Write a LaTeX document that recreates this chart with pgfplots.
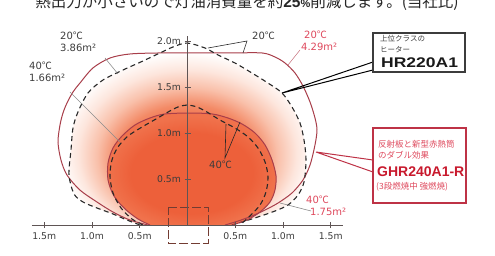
\documentclass[border=0pt]{standalone}
\usepackage{pgfplots}
\pgfplotsset{compat=1.18}
\usepackage{fontspec}
\setmainfont{DejaVu Sans}
\newfontfamily\jp{Noto Sans CJK JP}
\newfontfamily\lib{Liberation Sans}

\definecolor{heatA}{RGB}{238,102,64}
\definecolor{heatB}{RGB}{243,138,102}
\definecolor{heatC}{RGB}{249,192,170}
\definecolor{heatD}{RGB}{253,230,221}
\definecolor{coreA}{RGB}{237,96,58}
\definecolor{coreB}{RGB}{240,114,76}
\definecolor{solidc}{RGB}{168,62,74}
\definecolor{dashc}{RGB}{40,40,40}
\definecolor{rectc}{RGB}{115,60,50}
\definecolor{axisc}{RGB}{95,85,85}
\definecolor{labc}{RGB}{60,60,60}
\definecolor{redlab}{RGB}{222,72,92}
\definecolor{redbox}{RGB}{190,50,70}
\definecolor{ghr}{RGB}{200,25,45}
\definecolor{leadg}{RGB}{140,140,140}
\definecolor{leadr}{RGB}{205,130,140}

\pgfdeclareradialshading{glow}{\pgfpoint{0bp}{-10bp}}{color(0bp)=(heatA); color(10bp)=(heatA); color(15bp)=(heatB); color(19bp)=(heatC); color(23bp)=(heatD); color(27bp)=(white); color(50bp)=(white)}
\pgfdeclareradialshading{core}{\pgfpoint{0bp}{-3bp}}{color(0bp)=(coreA); color(18bp)=(coreA); color(25bp)=(coreB); color(50bp)=(coreB)}

\begin{document}
\begin{tikzpicture}
\useasboundingbox (-187.5pt,-30pt) rectangle (307.5pt,225pt);
\begin{axis}[
  anchor=origin, at={(0pt,0pt)},
  x=95.5pt, y=92pt,
  xmin=-1.63, xmax=1.63, ymin=0, ymax=2.05,
  axis lines=middle, axis on top, clip=false,
  axis line style={-, line width=0.8pt, color=axisc},
  xtick={-1.5,-1,-0.5,0.5,1,1.5},
  xticklabels={1.5m,1.0m,0.5m,0.5m,1.0m,1.5m},
  ytick={0.5,1,1.5,2},
  yticklabels={0.5m,1.0m,1.5m,2.0m},
  tick align=center, major tick length=6pt,
  tick style={line width=0.8pt, color=axisc},
  ticklabel style={font=\fontsize{9.3}{9.3}\selectfont, text=labc},
  xticklabel style={yshift=-1pt},
]
% glow (area inside outer dashed curve)
\addplot[draw=none, shade, shading=glow, smooth] coordinates {
(-0.497,0) (-0.634,0.054) (-0.780,0.120) (-0.948,0.185) (-1.094,0.250) (-1.188,0.337)
(-1.241,0.543) (-1.220,0.815) (-1.199,1.054) (-1.147,1.228) (-1.042,1.435) (-0.885,1.576)
(-0.675,1.685) (-0.466,1.783) (-0.288,1.870) (-0.152,1.935) (-0.005,1.978) (0.183,1.924)
(0.319,1.848) (0.497,1.761) (0.675,1.652) (0.843,1.543) (0.990,1.435) (1.094,1.283)
(1.178,1.109) (1.220,0.924) (1.241,0.707) (1.220,0.467) (1.157,0.326) (1.052,0.217)
(0.916,0.152) (0.738,0.087) (0.571,0.033) (0.466,0)} \closedcycle;
% core (area inside inner solid curve)
\addplot[draw=none, shade, shading=core, smooth] coordinates {
(-0.393,0) (-0.518,0.065) (-0.654,0.174) (-0.770,0.315) (-0.832,0.489) (-0.832,0.674)
(-0.780,0.837) (-0.686,0.967) (-0.550,1.087) (-0.393,1.163) (-0.236,1.207) (0.026,1.217)
(0.257,1.207) (0.424,1.163) (0.571,1.098) (0.707,1.000) (0.812,0.870) (0.885,0.707)
(0.927,0.533) (0.916,0.380) (0.864,0.250) (0.759,0.141) (0.623,0.054) (0.466,0)} \closedcycle;
% GHR240A1-R 20C (outer solid)
\addplot[solidc, line width=1pt, smooth] coordinates {
(-0.414,0) (-0.602,0.054) (-0.780,0.141) (-0.948,0.250) (-1.126,0.380) (-1.262,0.543)
(-1.325,0.707) (-1.356,0.902) (-1.335,1.087) (-1.304,1.217) (-1.262,1.326) (-1.199,1.446)
(-1.126,1.543) (-0.990,1.707) (-0.812,1.815) (-0.602,1.859) (-0.288,1.870) (0.026,1.870)
(0.445,1.870) (0.780,1.870) (0.916,1.826) (1.021,1.761) (1.126,1.652) (1.209,1.511)
(1.283,1.337) (1.335,1.163) (1.356,1.033) (1.335,0.870) (1.283,0.652) (1.209,0.489)
(1.094,0.348) (0.948,0.239) (0.812,0.163) (0.675,0.098) (0.529,0.043) (0.393,0)};
% HR220A1 20C (outer dashed)
\addplot[dashc, line width=1.1pt, dash pattern=on 5pt off 3.5pt, smooth] coordinates {
(-0.497,0) (-0.634,0.054) (-0.780,0.120) (-0.948,0.185) (-1.094,0.250) (-1.188,0.337)
(-1.241,0.543) (-1.220,0.815) (-1.199,1.054) (-1.147,1.228) (-1.042,1.435) (-0.885,1.576)
(-0.675,1.685) (-0.466,1.783) (-0.288,1.870) (-0.152,1.935) (-0.005,1.978) (0.183,1.924)
(0.319,1.848) (0.497,1.761) (0.675,1.652) (0.843,1.543) (0.990,1.435) (1.094,1.283)
(1.178,1.109) (1.220,0.924) (1.241,0.707) (1.220,0.467) (1.157,0.326) (1.052,0.217)
(0.916,0.152) (0.738,0.087) (0.571,0.033) (0.466,0)};
% GHR240A1-R 40C (inner solid)
\addplot[solidc, line width=1pt, smooth] coordinates {
(-0.393,0) (-0.518,0.065) (-0.654,0.174) (-0.770,0.315) (-0.832,0.489) (-0.832,0.674)
(-0.780,0.837) (-0.686,0.967) (-0.550,1.087) (-0.393,1.163) (-0.236,1.207) (0.026,1.217)
(0.257,1.207) (0.424,1.163) (0.571,1.098) (0.707,1.000) (0.812,0.870) (0.885,0.707)
(0.927,0.533) (0.916,0.380) (0.864,0.250) (0.759,0.141) (0.623,0.054) (0.466,0)};
% HR220A1 40C (inner dashed)
\addplot[dashc, line width=1.1pt, dash pattern=on 5pt off 3.5pt, smooth] coordinates {
(-0.466,0) (-0.581,0.065) (-0.696,0.185) (-0.780,0.348) (-0.812,0.533) (-0.791,0.707)
(-0.728,0.848) (-0.623,0.967) (-0.476,1.065) (-0.330,1.152) (-0.204,1.228) (-0.099,1.283)
(-0.005,1.304) (0.099,1.283) (0.204,1.228) (0.340,1.141) (0.497,1.054) (0.634,0.957)
(0.738,0.837) (0.812,0.685) (0.843,0.522) (0.822,0.359) (0.759,0.217) (0.654,0.098) (0.550,0)};
% heater
\addplot[rectc, line width=0.9pt, dash pattern=on 9pt off 3pt] coordinates {
(-0.204,0.196) (0.215,0.196) (0.215,-0.196) (-0.204,-0.196) (-0.204,0.196)};
\end{axis}

\begin{scope}[shift={(-187.5pt,225pt)}, x=1pt, y=-1pt]
% title (cut at top, as in the source image)
\node[anchor=base, inner sep=0, text=black!85] at (247,8) {\fontsize{15.5}{16}\selectfont\jp 熱出力が小さいので灯油消費量を約{\lib\bfseries 25}{\fontsize{11}{11}\selectfont\lib\bfseries\%}削減します。(当社比)};
% leaders
\draw[leadg, line width=0.6pt] (105,58) -- (118,74);
\draw[leadg, line width=0.6pt] (70,92) -- (120,142);
\draw[dashc, line width=0.6pt] (208,48) -- (247,41) -- (243,53);
\draw[leadr, line width=0.6pt] (300,50) -- (288,65);
\draw[dashc, line width=0.6pt] (226,124) -- (225,158) -- (240,122);
\draw[leadg, line width=0.6pt] (311,211) -- (280,203);
\draw[black, line width=1pt] (373,62) -- (282,93) -- (373,70);
\draw[redbox, line width=1pt] (373,160) -- (316,152) -- (373,172);
% labels
\node[anchor=north west, align=left, inner sep=0, text=labc, font=\fontsize{10}{11.5}\selectfont] at (60,32) {20{\jp ℃}\\3.86m²};
\node[anchor=north west, align=left, inner sep=0, text=labc, font=\fontsize{10}{11.5}\selectfont] at (29,62) {40{\jp ℃}\\1.66m²};
\node[anchor=north west, inner sep=0, text=labc, font=\fontsize{10}{11.5}\selectfont] at (252,32) {20{\jp ℃}};
\node[anchor=north west, align=left, inner sep=0, text=redlab, font=\fontsize{10}{11.5}\selectfont] at (301,31) {\hspace*{3pt}20{\jp ℃}\\4.29m²};
\node[anchor=north west, inner sep=0, text=labc, font=\fontsize{10}{11.5}\selectfont] at (209,161) {40{\jp ℃}};
\node[anchor=north west, align=left, inner sep=0, text=redlab, font=\fontsize{10}{11.5}\selectfont] at (306,196) {40{\jp ℃}\\\hspace*{4pt}1.75m²};
% black box
\draw[labc, line width=1.3pt] (373,33) rectangle (465,72);
\node[anchor=west, inner sep=0, text=labc, font=\fontsize{7.5}{8}\selectfont\jp] at (380,39) {上位クラスの};
\node[anchor=west, inner sep=0, text=labc, font=\fontsize{7.5}{8}\selectfont\jp] at (380,50) {ヒーター};
\node[anchor=west, inner sep=0, text=black!90] at (381,63) {\scalebox{1.25}[1]{\fontsize{14}{14}\selectfont\lib\bfseries HR220A1}};
% red box
\draw[redbox, line width=1.2pt] (373,128) rectangle (466,203);
\node[anchor=west, inner sep=0, text=redlab, font=\fontsize{8.5}{9}\selectfont\jp] at (378,144) {反射板と新型赤熱筒};
\node[anchor=west, inner sep=0, text=redlab, font=\fontsize{8.5}{9}\selectfont\jp] at (378,155) {のダブル効果};
\node[anchor=west, inner sep=0, text=ghr, font=\fontsize{14}{14}\selectfont\lib\bfseries] at (377,172) {GHR240A1-R};
\node[anchor=west, inner sep=0, text=redlab, font=\fontsize{8.5}{9}\selectfont\jp] at (376,187) {(3段燃焼中 強燃焼)};
\end{scope}
\end{tikzpicture}
\end{document}
